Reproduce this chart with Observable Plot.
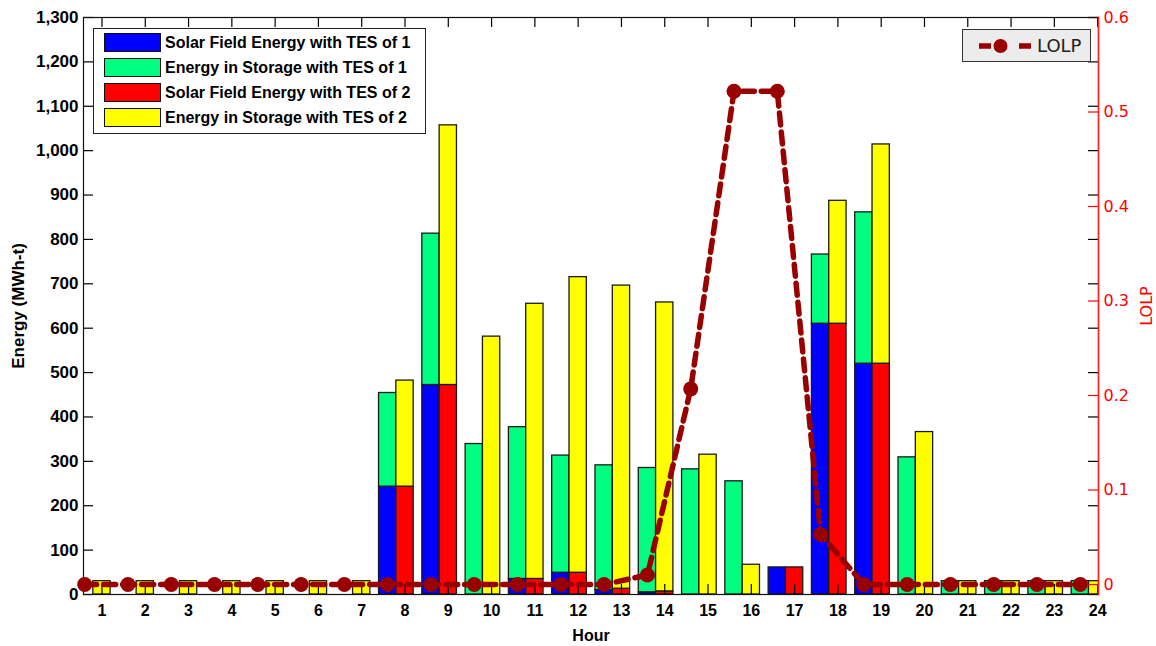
<!DOCTYPE html>
<html>
<head>
<meta charset="utf-8">
<script src="https://cdn.jsdelivr.net/npm/d3@7"></script>
<script src="https://cdn.jsdelivr.net/npm/@observablehq/plot@0.6"></script>
<style>
  body { margin: 0; background: #fff; }
  #wrap { position: relative; width: 1156px; height: 646px; overflow: hidden; background: #fff; }
  #wrap > svg { position: absolute; left: 0; top: 0; }
  .legend { position: absolute; box-sizing: border-box; }
  #leg1 { left: 93px; top: 28px; width: 333px; height: 106px; border: 1.5px solid #222; background: #fff;
          font-family: "Liberation Sans", Arial, sans-serif; font-weight: bold; font-size: 16px; color: #000; }
  #leg1 .sw { position: absolute; left: 10px; width: 57px; height: 19px; box-sizing: border-box; border: 1px solid #111; }
  #leg1 .tx { position: absolute; left: 71px; line-height: 19px; white-space: nowrap; }
  #leg2 { left: 962px; top: 29px; width: 129px; height: 33px; border: 1px solid #333; background: #ececec;
          font-family: "DejaVu Sans", sans-serif; font-size: 18px; color: #222; }
  #leg2 svg { position: absolute; left: 0; top: 0; }
  #leg2 .tx { position: absolute; left: 74px; top: 4px; line-height: 24px; }
</style>
</head>
<body>
<div id="wrap"></div>
<script>
// ---- data ----
const hours = [1,2,3,4,5,6,7,8,9,10,11,12,13,14,15,16,17,18,19,20,21,22,23,24];
const solarTES1   = [0,0,0,0,0,0,0,243,472,0,35,49,10,5,0,0,61,610,520,0,0,0,0,0];
const storageTES1 = [0,0,0,0,0,0,0,211,341,339,342,264,281,280,282,255,0,156,341,309,30,30,30,30];
const solarTES2   = [0,0,0,0,0,0,0,243,472,0,35,49,13,7,0,0,61,610,520,0,0,0,0,0];
const storageTES2 = [30,30,30,30,30,30,30,239,585,581,620,666,683,651,315,67,0,277,494,366,30,30,30,30];
const lolp        = [0,0,0,0,0,0,0,0,0,0,0,0,0,0.01,0.207,0.522,0.522,0.053,0,0,0,0,0,0];

const seriesNames  = ["Solar Field Energy with TES of 1", "Energy in Storage with TES of 1",
                      "Solar Field Energy with TES of 2", "Energy in Storage with TES of 2"];
const seriesColors = ["#0000ff", "#00ff80", "#ff0000", "#ffff00"];
const energyTicks  = [0,100,200,300,400,500,600,700,800,900,1000,1100,1200,1300];
const lolpTicks    = [0,0.1,0.2,0.3,0.4,0.5,0.6];
const lolpLabel    = "LOLP";

// ---- layout / scales ----
const W = 1156, H = 646, mL = 83, mR = 58, mT = 17, mB = 52;
const plotW = W - mL - mR, plotH = H - mT - mB;
const xDomain = [0.573, 24.02];
const yDomain = [0, 1300];
const lolpDomain = [-0.01057, 0.6];
const toE = l => (l - lolpDomain[0]) / (lolpDomain[1] - lolpDomain[0]) * (yDomain[1] - yDomain[0]) + yDomain[0];
const fromE = e => (e - yDomain[0]) / (yDomain[1] - yDomain[0]) * (lolpDomain[1] - lolpDomain[0]) + lolpDomain[0];
const barW = 0.4;
const tick = 10;

const rows = [];
hours.forEach((h, i) => {
  const segs = [
    {group: 0, series: seriesNames[0], y1: 0, y2: solarTES1[i]},
    {group: 0, series: seriesNames[1], y1: solarTES1[i], y2: solarTES1[i] + storageTES1[i]},
    {group: 1, series: seriesNames[2], y1: 0, y2: solarTES2[i]},
    {group: 1, series: seriesNames[3], y1: solarTES2[i], y2: solarTES2[i] + storageTES2[i]}
  ];
  segs.forEach(s => { if (s.y2 > s.y1) rows.push({hour: h, ...s}); });
});
const lolpRows = hours.map((h, i) => ({hour: h, lolp: lolp[i]}));
const xBar1 = d => d.hour - barW * 1.5 + d.group * barW;
const xBar2 = d => d.hour - barW * 0.5 + d.group * barW;
const xLolp = d => d.hour - barW;
const yLolp = d => toE(d.lolp);
const lolpTickE = lolpTicks.map(toE);

const boldFont = {fontFamily: '"Liberation Sans", Arial, sans-serif', fontWeight: "bold"};
const redFont = {fontFamily: '"DejaVu Sans", sans-serif', fontWeight: "normal"};
const tickStyle = {stroke: "#000", strokeWidth: 1.2};

const chart = Plot.plot({
  width: W, height: H,
  marginLeft: mL, marginRight: mR, marginTop: mT, marginBottom: mB,
  style: {background: "#fff", color: "#000", overflow: "visible"},
  x: {type: "linear", domain: xDomain},
  y: {type: "linear", domain: yDomain},
  color: {domain: seriesNames, range: seriesColors},
  marks: [
    Plot.rect(rows, {x1: xBar1, x2: xBar2, y1: "y1", y2: "y2", fill: "series",
                     stroke: "#1a1a1a", strokeWidth: 1.3, clip: true}),
    // tick labels and titles
    Plot.axisX({ticks: hours, anchor: "bottom", tickSize: 0, tickPadding: 10, tickFormat: d => String(d),
                label: "Hour", labelAnchor: "center", labelOffset: 46, labelArrow: "none", ...boldFont, fontSize: 16}),
    Plot.axisY({ticks: energyTicks, anchor: "left", tickSize: 0, tickPadding: 5, tickFormat: d3.format(","),
                label: "Energy (MWh-t)", labelAnchor: "center", labelOffset: 72, labelArrow: "none", ...boldFont, fontSize: 17}),
    Plot.axisY({ticks: lolpTickE, anchor: "right", tickSize: 0, tickPadding: 5,
                tickFormat: e => String(+fromE(e).toFixed(1)), fill: "#ff0000",
                label: lolpLabel, labelAnchor: "center", labelOffset: 53, labelArrow: "none", ...redFont, fontSize: 16}),
    // inward tick marks (short rules on each frame edge)
    Plot.ruleX(hours, {x: d => d, insetTop: plotH - tick, ...tickStyle}),
    Plot.ruleX(hours, {x: d => d, insetBottom: plotH - tick, ...tickStyle}),
    Plot.ruleY(energyTicks, {y: d => d, insetLeft: plotW - tick, dx: -(plotW - tick), ...tickStyle}),
    Plot.ruleY(energyTicks, {y: d => d, insetLeft: plotW - tick, ...tickStyle}),
    Plot.ruleY(lolpTickE, {y: d => d, insetLeft: plotW - tick, stroke: "#ff0000", strokeWidth: 1.2}),
    Plot.frame({stroke: "#111", strokeWidth: 1.2}),
    Plot.frame({anchor: "right", stroke: "#ff2020", strokeWidth: 1.5}),
    // LOLP line
    Plot.line(lolpRows, {x: xLolp, y: yLolp, stroke: "#990000", strokeWidth: 5.5, strokeDasharray: "12,7"}),
    Plot.dot(lolpRows, {x: xLolp, y: yLolp, r: 7.5, fill: "#990000", stroke: null})
  ]
});

const wrap = document.getElementById("wrap");
wrap.appendChild(chart);

// legend 1 (bar series)
const leg1 = document.createElement("div");
leg1.id = "leg1"; leg1.className = "legend";
seriesNames.forEach((name, i) => {
  const top = 3.5 + i * 25;
  const sw = document.createElement("div");
  sw.className = "sw"; sw.style.top = top + "px"; sw.style.background = seriesColors[i];
  const tx = document.createElement("div");
  tx.className = "tx"; tx.style.top = top + "px"; tx.textContent = name;
  leg1.appendChild(sw); leg1.appendChild(tx);
});
wrap.appendChild(leg1);

// legend 2 (LOLP line)
const leg2 = document.createElement("div");
leg2.id = "leg2"; leg2.className = "legend";
leg2.innerHTML = `<svg width="129" height="33">
  <line x1="16" y1="16" x2="28" y2="16" stroke="#990000" stroke-width="5.5"/>
  <line x1="56" y1="16" x2="68" y2="16" stroke="#990000" stroke-width="5.5"/>
  <circle cx="37.5" cy="16" r="7" fill="#990000"/>
</svg><div class="tx">${lolpLabel}</div>`;
wrap.appendChild(leg2);
</script>
</body>
</html>
